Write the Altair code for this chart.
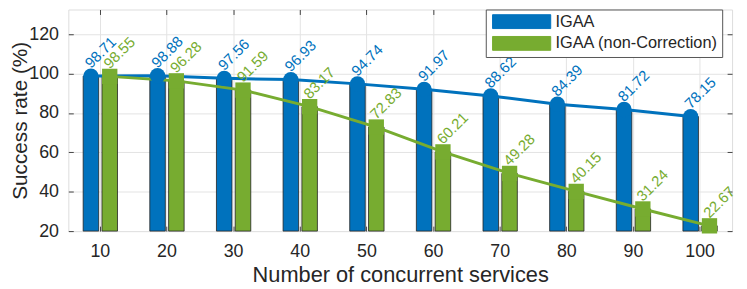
import altair as alt
import pandas as pd

services = [10, 20, 30, 40, 50, 60, 70, 80, 90, 100]
igaa = [98.71, 98.88, 97.56, 96.93, 94.74, 91.97, 88.62, 84.39, 81.72, 78.15]
igaa_nc = [98.55, 96.28, 91.59, 83.17, 72.83, 60.21, 49.28, 40.15, 31.24, 22.67]
series_names = ["IGAA", "IGAA (non-Correction)"]
series_colors = ["#0072BD", "#77AC30"]
y_ticks = [20, 40, 60, 80, 100, 120]

rows = []
for i, n in enumerate(services):
    rows.append({"n": n, "series": series_names[0], "rate": igaa[i]})
    rows.append({"n": n, "series": series_names[1], "rate": igaa_nc[i]})
df = pd.DataFrame(rows)

FONT = "Liberation Sans"
TXT = "#262626"
GRID = "#e3e3e3"

xscale = alt.Scale(paddingInner=0.2, paddingOuter=0.08)
yscale = alt.Scale(domain=[20, 132.5], nice=False, zero=False)
color = alt.Color("series:N", scale=alt.Scale(domain=series_names, range=series_colors), legend=None)
xoff = alt.XOffset("series:N", sort=series_names,
                   scale=alt.Scale(domain=series_names, paddingInner=0.174, paddingOuter=0.505))

x_bottom = alt.Axis(orient="bottom", title="Number of concurrent services", offset=-5, tickSize=5,
                    domain=False, grid=True, gridColor=GRID, bandPosition=0.5, labelAngle=0,
                    labelFont=FONT, labelFontSize=18, labelColor=TXT, labelPadding=12,
                    tickColor="#444", titleFont=FONT, titleFontSize=22, titleFontWeight="normal",
                    titleColor=TXT, titleY=56, titleBaseline="alphabetic", zindex=0)
y_left = alt.Axis(orient="left", title="Success rate (%)", values=y_ticks, offset=-5, tickSize=5,
                  domain=False, grid=True, gridColor=GRID, labelFont=FONT, labelFontSize=18,
                  labelColor=TXT, labelPadding=10, tickColor="#444", titleFont=FONT,
                  titleFontSize=21, titleFontWeight="normal", titleColor=TXT,
                  titleX=-47, titleY=112, titleAngle=270, titleBaseline="alphabetic",
                  titleAlign="center", zindex=0)
x_top = alt.Axis(orient="top", title=None, offset=-5, tickSize=5, domain=False, grid=False,
                 labels=False, bandPosition=0.5, tickColor="#444", zindex=0)
y_right = alt.Axis(orient="right", title=None, values=y_ticks, offset=-5, tickSize=5, domain=False,
                   grid=False, labels=False, tickColor="#444", zindex=0)

base = alt.Chart(df)

bars = base.mark_bar(stroke="#222", strokeWidth=0.8).encode(
    x=alt.X("n:O", scale=xscale, axis=x_bottom),
    xOffset=xoff,
    y=alt.Y("rate:Q", scale=yscale, axis=y_left),
    y2=alt.datum(20),
    color=alt.Color("series:N", scale=alt.Scale(domain=series_names, range=series_colors),
                    legend=alt.Legend(title=None, orient="none", legendX=422, legendY=0,
                                      symbolType="M-4.2,-1H4.2V1H-4.2Z", symbolSize=196,
                                      symbolStrokeColor="#222", symbolStrokeWidth=1,
                                      symbolOffset=24, labelOffset=26, labelFont=FONT,
                                      labelFontSize=16.5, labelColor=TXT, padding=4, rowPadding=3,
                                      strokeColor="#555", fillColor="white", labelLimit=400)),
)

lines = base.mark_line(strokeWidth=3).encode(
    x=alt.X("n:O", scale=xscale, axis=x_top),
    xOffset=xoff,
    y=alt.Y("rate:Q", scale=yscale, axis=y_right),
    color=color,
    detail="series:N",
)


def marker(name, shape):
    return base.transform_filter(alt.datum.series == name).mark_point(
        filled=True, opacity=1, size=240, shape=shape).encode(
        x=alt.X("n:O", scale=xscale, axis=None),
        xOffset=xoff,
        y=alt.Y("rate:Q", scale=yscale, axis=None),
        color=color,
    )


points_a = marker(series_names[0], "circle")
points_b = marker(series_names[1], "square")

labels = base.mark_text(align="left", baseline="alphabetic", dx=5, dy=-5,
                        font=FONT, fontSize=15).encode(
    x=alt.X("n:O", scale=xscale, axis=None),
    xOffset=xoff,
    y=alt.Y("rate:Q", scale=yscale, axis=None),
    angle=alt.value(315),
    color=color,
    text=alt.Text("rate:Q", format=".2f"),
)

chart = alt.layer(bars, lines, points_a, points_b, labels).properties(
    width=671, height=224,
    autosize=alt.AutoSizeParams(type="none"),
    padding={"left": 61, "top": 0, "right": 7, "bottom": 57},
).configure_view(stroke="#888", strokeWidth=1).configure(background="white")

chart.save("out.html", embed_options={"renderer": "svg", "actions": False})
